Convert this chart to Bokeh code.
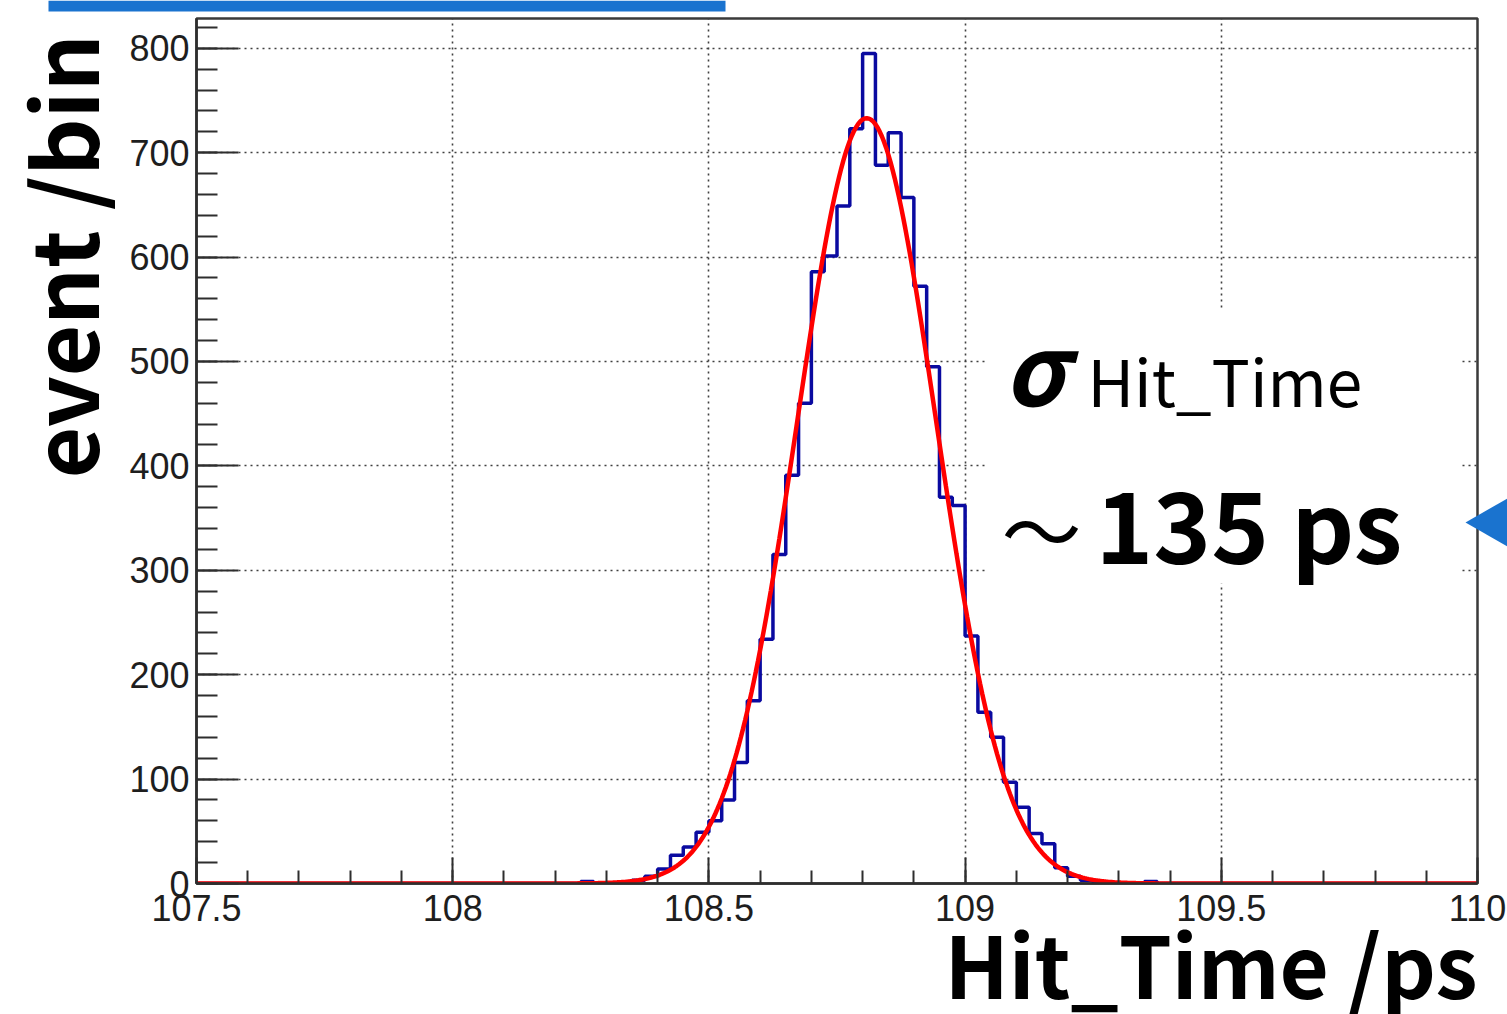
import math
import numpy as np
from bokeh.plotting import figure
from bokeh.layouts import column
from bokeh.models import FixedTicker, CustomJSTickFormatter, Range1d
from bokeh.core.properties import value
from bokeh.embed import file_html
from bokeh.resources import INLINE

# ---- histogram data: Hit_Time, 100 bins of 0.025 from 107.5 to 110 ----
bin_lo = 107.5
bin_hi = 110.0
n_bins = 100
counts = [0] * 30 + [
    2, 0, 0, 1, 3, 7, 14, 27, 35, 49,            # bins 30-39
    60, 80, 116, 175, 234, 315, 391, 460, 586, 601,  # bins 40-49
    649, 723, 795, 688, 719, 657, 572, 495, 370, 362,  # bins 50-59
    237, 164, 140, 97, 73, 48, 38, 15, 7, 3,      # bins 60-69
    1, 0, 0, 0, 2,                                # bins 70-74
] + [0] * 25

# ---- gaussian fit parameters ----
fit_const = 733.0
fit_mean = 108.808
fit_sigma = 0.135      # 135 ps

# ---- axis ticks ----
x_major = [107.5, 108.0, 108.5, 109.0, 109.5, 110.0]
x_minor = [round(107.5 + 0.1 * i, 2) for i in range(26)]
y_major = [0, 100, 200, 300, 400, 500, 600, 700, 800]
y_minor = list(range(0, 821, 20))
x_grid = [108.0, 108.5, 109.0, 109.5]
y_grid = [100, 200, 300, 400, 500, 600, 700, 800]

y_top = 828.5

W, H = 1507, 1014
FR_L, FR_R, FR_T, FR_B = 196, 1477, 18, 883

# =================== histogram figure ===================
p = figure(width=W, height=H, x_range=(bin_lo, bin_hi), y_range=(0, y_top),
           output_backend="svg", toolbar_location=None,
           min_border_left=FR_L, min_border_right=W - FR_R,
           min_border_top=FR_T, min_border_bottom=H - FR_B)
p.background_fill_color = "white"
p.border_fill_color = "white"
p.outline_line_color = "#3a3a3a"
p.outline_line_width = 2.5

# axes, ROOT style: ticks pointing into the frame
fmt = CustomJSTickFormatter(code="return (Math.round(tick*10)/10).toString();")
xa = p.xaxis[0]
xa.ticker = FixedTicker(ticks=x_major, minor_ticks=x_minor)
xa.formatter = fmt
xa.major_tick_in = 26
xa.major_tick_out = 0
xa.minor_tick_in = 13
xa.minor_tick_out = 0
xa.major_label_standoff = 11

ya = p.yaxis[0]
ya.ticker = FixedTicker(ticks=y_major, minor_ticks=y_minor)
ya.formatter = fmt
ya.major_tick_in = 42
ya.major_tick_out = 0
ya.minor_tick_in = 21
ya.minor_tick_out = 0
ya.major_label_standoff = 7

for ax in (xa, ya):
    ax.axis_line_color = "#2e2e2e"
    ax.axis_line_width = 2.5
    ax.major_tick_line_color = "#2e2e2e"
    ax.major_tick_line_width = 2
    ax.minor_tick_line_color = "#2e2e2e"
    ax.minor_tick_line_width = 2
    ax.major_label_text_font = "Liberation Sans"
    ax.major_label_text_font_size = "36px"
    ax.major_label_text_color = "#1e1e1e"

p.xgrid.ticker = FixedTicker(ticks=x_grid)
p.ygrid.ticker = FixedTicker(ticks=y_grid)
for g in (p.xgrid, p.ygrid):
    g.grid_line_color = "#404040"
    g.grid_line_width = 1.6
    g.grid_line_dash = "2 4"

# histogram outline and gaussian fit
edges = np.linspace(bin_lo, bin_hi, n_bins + 1)
step_y = list(counts) + [counts[-1]]
p.step(edges, step_y, mode="after", line_color="#0a0aa0", line_width=3.5)

fx = np.linspace(bin_lo, bin_hi, 601)
fy = fit_const * np.exp(-0.5 * ((fx - fit_mean) / fit_sigma) ** 2)
p.line(fx, fy, line_color="#ff0000", line_width=4.5)

# =================== slide overlay (titles, note, decorations) ===================
# a transparent full-page figure in pixel coordinates, stacked over the histogram
q = figure(width=W, height=H, x_range=Range1d(0, W), y_range=Range1d(H, 0),
           x_axis_type=None, y_axis_type=None,
           output_backend="svg", toolbar_location=None, min_border=0,
           margin=(-H, 0, 0, 0))
q.background_fill_alpha = 0
q.border_fill_alpha = 0
q.outline_line_color = None
# keep the overlay frame on the whole page instead of lining it up with the histogram frame
for fig in (p, q):
    if "frame_align" in fig.properties():
        fig.frame_align = False

BLUE = "#1a73cf"
JP = "Noto Sans CJK JP"
BASE_SHIFT = 0.44   # alphabetic baseline correction, in em

q.quad(left=[48], right=[725], top=[0], bottom=[11], fill_color=BLUE, line_alpha=0)
q.quad(left=[986], right=[1461], top=[310], bottom=[583], fill_color="white", line_alpha=0)
q.patch([1465, 1512, 1512], [522, 495, 549], fill_color=BLUE, line_alpha=0)


def qtext(x, base_y, s, size, style="normal", angle=0.0, font=JP):
    if angle:
        x, y = x - BASE_SHIFT * size, base_y
    else:
        y = base_y - BASE_SHIFT * size
    q.text(x=[x], y=[y], text=[s], angle=angle,
           text_font=value(font), text_font_style=style,
           text_font_size=f"{size}px", text_color="black",
           text_baseline="alphabetic", text_align="left")


qtext(1087, 407, "Hit_Time", 64)
qtext(1001, 562, "〜", 80)
qtext(99, 478, "event /bin", 89, "bold", angle=math.pi / 2)
qtext(944, 998, "Hit_Time /ps", 85, "bold")
qtext(1003, 406, "σ", 98, "bold italic")
qtext(1095, 564, "135 ps", 98, "bold")

layout = column(p, q)
open("out.html", "w").write(file_html(layout, INLINE))
